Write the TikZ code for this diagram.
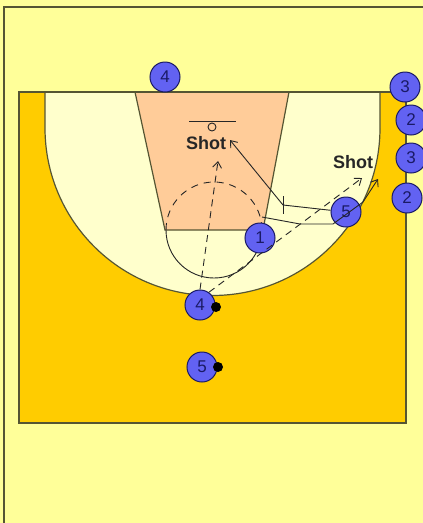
\documentclass[tikz,border=0pt]{standalone}
\usepackage{fontspec}
\setmainfont{Liberation Sans}
\usetikzlibrary{arrows.meta}
\definecolor{bg}{HTML}{FFFF99}
\definecolor{court}{HTML}{FFCC00}
\definecolor{three}{HTML}{FFFFCC}
\definecolor{lane}{HTML}{FFCC99}
\definecolor{pl}{HTML}{6262F2}
\definecolor{num}{HTML}{1A1A66}
\definecolor{ln}{HTML}{555533}
\begin{document}
\begin{tikzpicture}[x=1pt,y=-1pt,
  player/.style={circle,draw=num,line width=1pt,fill=pl,minimum size=30pt,inner sep=0pt,font=\fontsize{17}{17}\selectfont,text=num},
  ball/.style={circle,fill=black,minimum size=10pt,inner sep=0pt},
  courtline/.style={draw=ln,line width=1.2pt},
  move/.style={draw=black!85,line width=0.9pt},
  pass/.style={draw=black!85,line width=0.9pt,dash pattern=on 7pt off 5pt},
  tip/.style={-{Straight Barb[length=6pt,width=9pt]}},
  lbl/.style={font=\bfseries\fontsize{18}{18}\selectfont,text=black!85}]
\useasboundingbox (0,0) rectangle (423,523);
\fill[bg] (0,0) rectangle (423,523);
\draw[ln,line width=1.2pt] (4,523)--(4,7)--(423,7);
% court
\fill[court] (19,92) rectangle (406,423);
\fill[three] (45,92)--(45,128) arc[start angle=180,end angle=0,radius=167.5]--(380,92)--cycle;
\draw[courtline] (45,92)--(45,128) arc[start angle=180,end angle=0,radius=167.5]--(380,92);
\fill[lane] (135,92)--(165,230)--(263,230)--(289,92)--cycle;
\draw[courtline] (135,92)--(165,230)--(263,230)--(289,92);
\draw[courtline] (19,92) rectangle (406,423);
% free throw circle
\draw[move,dash pattern=on 7pt off 6pt] (166,230) arc[start angle=180,end angle=360,radius=48];
\draw[move] (166,230) arc[start angle=180,end angle=0,radius=48];
% basket
\draw[move] (189,121)--(236,121);
\draw[move] (212,127) circle[radius=4];
% labels
\node[lbl] (shotA) at (206,143) {Shot};
\node[lbl] (shotB) at (353,162) {Shot};
% players
\node[player] (d4) at (165,77) {4};
\node[player] (r3a) at (405,87) {3};
\node[player] (r2a) at (411,120) {2};
\node[player] (r3b) at (411,158) {3};
\node[player] (r2b) at (407,198) {2};
\node[player] (p1) at (260,238) {1};
\node[player] (p5) at (346,212) {5};
\node[player] (p4) at (200,305) {4};
\node[ball] (b4) at (216,307) {};
\node[player] (q5) at (202,367) {5};
\node[ball] (b5) at (218,367) {};
% coordinates of movement
\coordinate (c4) at (218,161);
\coordinate (cw) at (362,178);
\coordinate (scr) at (283,205);
\coordinate (scrT) at (283,196);
\coordinate (scrB) at (283,214);
\coordinate (bk) at (230,140);
\coordinate (m0) at (262,217);
\coordinate (m1) at (300,224);
\coordinate (m2) at (333,224);
\coordinate (m3) at (363,202);
\coordinate (m4) at (378,179);
% movements
\draw[pass,tip] (p4.north) -- (c4);
\draw[pass,tip] (p4.55) -- (cw);
\draw[move] (p5) -- (scr);
\draw[move] (scrT) -- (scrB);
\draw[move,tip] (scr) -- (bk);
\draw[move,tip] (m0) -- (m1) -- (m2) -- (m3) -- (m4);
\end{tikzpicture}
\end{document}
